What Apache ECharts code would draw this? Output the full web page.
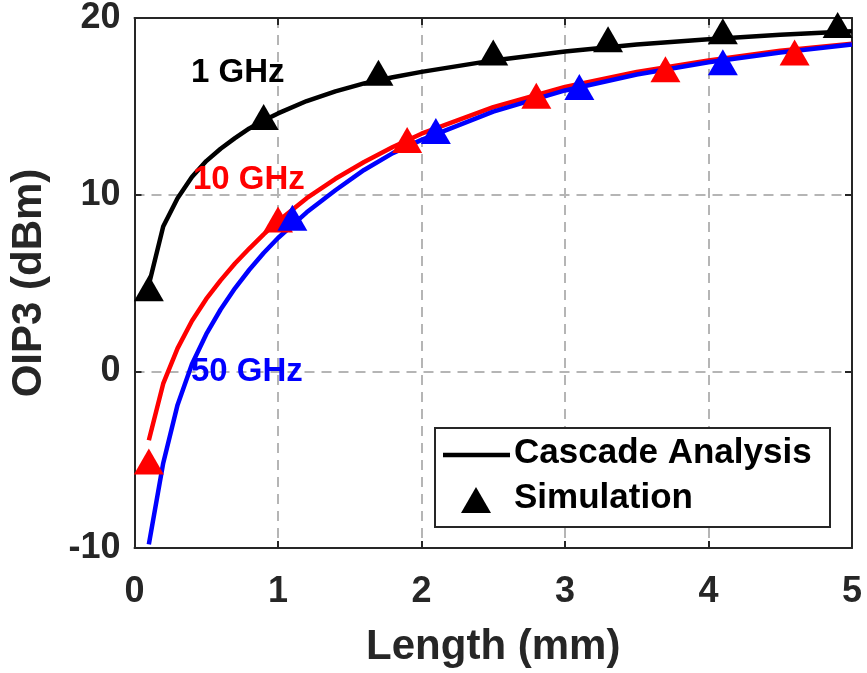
<!DOCTYPE html>
<html>
<head>
<meta charset="utf-8">
<script src="https://cdn.jsdelivr.net/npm/echarts@6/dist/echarts.min.js"></script>
<style>
  html, body { margin: 0; padding: 0; background: #fff; }
  #main { width: 867px; height: 673px; }
</style>
</head>
<body>
<div id="main"></div>
<script>
// cascade analysis curves (sampled along length, mm)
var lineLen = [0.1, 0.2, 0.3, 0.4, 0.5, 0.6, 0.7, 0.8, 0.9, 1.0, 1.2, 1.4, 1.6, 1.8, 2.0, 2.5, 3.0, 3.5, 4.0, 4.5, 5.0];
var line1G  = [4.9, 8.2, 9.8, 11.0, 11.9, 12.6, 13.2, 13.75, 14.2, 14.6, 15.3, 15.85, 16.3, 16.65, 16.95, 17.6, 18.1, 18.5, 18.8, 19.05, 19.25];
var line10G = [-3.9, -0.7, 1.3, 2.85, 4.1, 5.15, 6.1, 6.95, 7.75, 8.5, 9.8, 10.9, 11.85, 12.7, 13.45, 14.95, 16.1, 16.95, 17.6, 18.15, 18.55];
var line50G = [-9.8, -5.2, -1.9, 0.4, 2.1, 3.5, 4.7, 5.75, 6.7, 7.55, 9.0, 10.25, 11.4, 12.35, 13.1, 14.7, 15.9, 16.8, 17.5, 18.05, 18.5];

// simulation points
var sim1Gx  = [0.1, 0.9, 1.7, 2.5, 3.3, 4.1, 4.9];
var sim1Gy  = [4.7, 14.4, 16.9, 18.05, 18.8, 19.25, 19.6];
var sim10Gx = [0.1, 1.0, 1.9, 2.8, 3.7, 4.6];
var sim10Gy = [-5.1, 8.6, 13.1, 15.6, 17.1, 18.05];
var sim50Gx = [1.1, 2.1, 3.1, 4.1];
var sim50Gy = [8.7, 13.6, 16.1, 17.5];

var xTicks = [0, 1, 2, 3, 4, 5];
var yTicks = [-10, 0, 10, 20];

function zip(xs, ys) {
  return xs.map(function (x, i) { return [x, ys[i]]; });
}

var myChart = echarts.init(document.getElementById('main'));

var axisColor = '#262626';
var fontFam = '"Liberation Sans", Arial, sans-serif';
var gridLine = { show: true, lineStyle: { color: '#b5b5b5', width: 2, type: [10, 7] } };

function lineSeries(name, xs, ys, color) {
  return {
    name: name, type: 'line', data: zip(xs, ys),
    showSymbol: false, symbol: 'none', smooth: false,
    lineStyle: { color: color, width: 4.5, join: 'round' }, z: 2, animation: false
  };
}
function simSeries(name, xs, ys, color) {
  return {
    name: name, type: 'scatter', data: zip(xs, ys),
    symbol: 'triangle', symbolSize: [30, 26],
    itemStyle: { color: color, opacity: 1 }, z: 3, animation: false
  };
}

function frameAxis(extra) {
  var a = {
    axisLine: { show: true, onZero: false, lineStyle: { color: axisColor, width: 2 } },
    axisTick: { show: true, inside: true, length: 7, lineStyle: { color: axisColor, width: 2 } }
  };
  for (var k in extra) a[k] = extra[k];
  return a;
}

option = {
  backgroundColor: '#fff',
  animation: false,
  grid: { left: 134.5, right: 15, top: 17.5, bottom: 124, containLabel: false },
  xAxis: [
    frameAxis({
      type: 'value', min: xTicks[0], max: xTicks[xTicks.length - 1], interval: 1,
      name: 'Length (mm)', nameLocation: 'middle', nameGap: 78,
      nameTextStyle: { fontFamily: fontFam, fontWeight: 'bold', fontSize: 42, color: axisColor },
      axisLabel: { fontFamily: fontFam, fontWeight: 'bold', fontSize: 36, color: axisColor, margin: 26 },
      splitLine: gridLine
    }),
    frameAxis({
      type: 'value', position: 'top', min: xTicks[0], max: xTicks[xTicks.length - 1], interval: 1,
      axisLabel: { show: false }, splitLine: { show: false }
    })
  ],
  yAxis: [
    frameAxis({
      type: 'value', min: yTicks[0], max: yTicks[yTicks.length - 1], interval: 10,
      name: 'OIP3 (dBm)', nameLocation: 'middle', nameGap: 84,
      nameTextStyle: { fontFamily: fontFam, fontWeight: 'bold', fontSize: 42, color: axisColor },
      axisLabel: { fontFamily: fontFam, fontWeight: 'bold', fontSize: 36, color: axisColor, margin: 14 },
      splitLine: gridLine
    }),
    frameAxis({
      type: 'value', position: 'right', min: yTicks[0], max: yTicks[yTicks.length - 1], interval: 10,
      axisLabel: { show: false }, splitLine: { show: false }
    })
  ],
  graphic: [
    { type: 'text', left: 191, top: 56, z: 10,
      style: { text: '1 GHz', fill: '#000', font: 'bold 33px ' + fontFam } },
    { type: 'text', left: 193, top: 163, z: 10,
      style: { text: '10 GHz', fill: '#ff0000', font: 'bold 33px ' + fontFam } },
    { type: 'text', left: 191, top: 355, z: 10,
      style: { text: '50 GHz', fill: '#0000ff', font: 'bold 33px ' + fontFam } },
    // legend box
    { type: 'rect', z: 20, shape: { x: 435, y: 428, width: 395, height: 99 },
      style: { fill: '#fff', stroke: axisColor, lineWidth: 2 } },
    { type: 'line', z: 21, shape: { x1: 443, y1: 455, x2: 510, y2: 455 },
      style: { stroke: '#000', lineWidth: 4.5 } },
    { type: 'polygon', z: 21, shape: { points: [[476, 487], [461, 513], [491, 513]] },
      style: { fill: '#000' } },
    { type: 'text', z: 21, left: 514, top: 436,
      style: { text: 'Cascade Analysis', fill: '#000', font: 'bold 35px ' + fontFam } },
    { type: 'text', z: 21, left: 514, top: 481,
      style: { text: 'Simulation', fill: '#000', font: 'bold 35px ' + fontFam } }
  ],
  series: [
    lineSeries('1 GHz', lineLen, line1G, '#000000'),
    lineSeries('10 GHz', lineLen, line10G, '#ff0000'),
    lineSeries('50 GHz', lineLen, line50G, '#0000ff'),
    simSeries('1 GHz sim', sim1Gx, sim1Gy, '#000000'),
    simSeries('10 GHz sim', sim10Gx, sim10Gy, '#ff0000'),
    simSeries('50 GHz sim', sim50Gx, sim50Gy, '#0000ff')
  ]
};

myChart.setOption(option);
</script>
</body>
</html>
